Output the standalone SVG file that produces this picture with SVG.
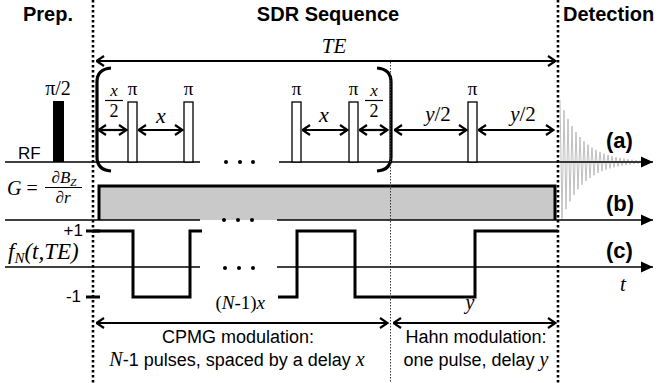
<svg xmlns="http://www.w3.org/2000/svg" width="658" height="383" viewBox="0 0 658 383">
<style>
.hdr{font-family:"Liberation Sans",Arial,sans-serif;font-weight:bold;font-size:20px;fill:#000}
.sans{font-family:"Liberation Sans",Arial,sans-serif;fill:#000}
.serif{font-family:"Liberation Serif","Times New Roman",serif;fill:#000}
.it{font-style:italic}
.axis{stroke:#000;stroke-width:1.3;fill:none}
.pulse{fill:#fff;stroke:#000;stroke-width:1.3}
.arr{stroke:#000;stroke-width:2.2;fill:none}
.wave{stroke:#000;stroke-width:3;fill:none}
.dot3{stroke:#000;stroke-width:2.6;stroke-dasharray:2.6 2.4;fill:none}
.lab{font-family:"Liberation Sans",Arial,sans-serif;font-weight:bold;font-size:22px;fill:#000}
.brk{stroke:#000;stroke-width:3.2;fill:none}
</style>
<defs>
<marker id="chev" viewBox="0 0 10 12" refX="9.5" refY="6" markerWidth="10" markerHeight="12" markerUnits="userSpaceOnUse" orient="auto-start-reverse"><path d="M1.5 1 L9 6 L1.5 11" fill="none" stroke="#000" stroke-width="2.2"/></marker>
<marker id="tri" viewBox="0 0 12 12" refX="12" refY="6" markerWidth="12" markerHeight="12" markerUnits="userSpaceOnUse" orient="auto"><path d="M0 0.5 L12 6 L0 11.5 Z" fill="#000"/></marker>
</defs>

<g id="headers">
<text class="hdr" x="48" y="21" text-anchor="middle">Prep.</text>
<text class="hdr" x="328" y="21" text-anchor="middle">SDR Sequence</text>
<text class="hdr" x="563" y="21">Detection</text>
<text class="serif it" x="334" y="53" font-size="21" text-anchor="middle">TE</text>
</g>

<g id="fid">
<polyline points="560,100 562,218.6 564,110.3 566,209.2 568,118.9 570,201.4 572,126.1 574,194.8 576,132 578,189.4 580,137 582,184.8 584,141.2 586,181 588,144.6 590,177.9 592,147.5 594,175.2 596,149.9 598,173 600,151.9 602,171.2 604,153.6 606,169.7 608,155 610,168.4 612,156.2 614,167.3 616,157.1 618,166.4 620,157.9 622,165.7 624,158.6 626,165.1 628,159.2 630,164.6 632,159.7 634,164.1 636,160.1 638,163.8 640,160.4" fill="none" stroke="#b0b0b0" stroke-width="0.8"/>
</g>

<g id="gradient">
<path d="M99 220 V186 H555 V220" fill="#c9c9c9" stroke="#000" stroke-width="3"/>
</g>

<g id="axes">
<line class="axis" x1="5" y1="162" x2="200" y2="162"/>
<line class="axis" x1="279" y1="162" x2="653" y2="162" marker-end="url(#tri)"/>
<line class="axis" x1="5" y1="220" x2="200" y2="220"/>
<line class="axis" x1="277" y1="220" x2="653" y2="220" marker-end="url(#tri)"/>
<line class="axis" x1="5" y1="267" x2="200" y2="267"/>
<line class="axis" x1="277" y1="267" x2="653" y2="267" marker-end="url(#tri)"/>
<g fill="#000">
<circle cx="226" cy="162" r="2"/><circle cx="240" cy="162" r="2"/><circle cx="253" cy="162" r="2"/>
<circle cx="224" cy="220" r="2"/><circle cx="238" cy="220" r="2"/><circle cx="252" cy="220" r="2"/>
<circle cx="225" cy="268" r="2"/><circle cx="239" cy="268" r="2"/><circle cx="253" cy="268" r="2"/>
</g>
</g>

<g id="rf-label"><text class="sans" x="18" y="159" font-size="17">RF</text></g>

<g id="pulse-pi2">
<rect x="53" y="101" width="11" height="61" fill="#000"/>
<text class="serif" x="58" y="95" font-size="20" text-anchor="middle">π/2</text>
</g>
<g id="pulse-1"><rect class="pulse" x="128" y="102" width="9" height="60"/><text class="serif" x="132.5" y="95" font-size="19" text-anchor="middle">π</text></g>
<g id="pulse-2"><rect class="pulse" x="184" y="102" width="9" height="60"/><text class="serif" x="188.5" y="95" font-size="19" text-anchor="middle">π</text></g>
<g id="pulse-3"><rect class="pulse" x="292" y="102" width="9" height="60"/><text class="serif" x="296.5" y="95" font-size="19" text-anchor="middle">π</text></g>
<g id="pulse-4"><rect class="pulse" x="349" y="102" width="9" height="60"/><text class="serif" x="353.5" y="95" font-size="19" text-anchor="middle">π</text></g>
<g id="pulse-hahn"><rect class="pulse" x="468" y="102" width="9" height="60"/><text class="serif" x="472.5" y="95" font-size="19" text-anchor="middle">π</text></g>

<g id="brackets">
<path class="brk" d="M111 68 Q97 69 97 82 V157 Q97 170 111 171"/>
<path class="brk" d="M377 68 Q391 69 391 82 V157 Q391 170 377 171"/>
</g>

<g id="delay-labels">
<text class="serif it" x="114" y="96" font-size="17" text-anchor="middle">x</text>
<line x1="105" y1="100.5" x2="123" y2="100.5" stroke="#000" stroke-width="1.2"/>
<text class="serif" x="114" y="117" font-size="18" text-anchor="middle">2</text>
<text class="serif it" x="161" y="123" font-size="22" text-anchor="middle">x</text>
<text class="serif it" x="324" y="122" font-size="22" text-anchor="middle">x</text>
<text class="serif it" x="374" y="96" font-size="17" text-anchor="middle">x</text>
<line x1="365" y1="100.5" x2="383" y2="100.5" stroke="#000" stroke-width="1.2"/>
<text class="serif" x="374" y="117" font-size="18" text-anchor="middle">2</text>
<text class="serif" x="438" y="121" font-size="21" text-anchor="middle"><tspan font-style="italic">y</tspan>/2</text>
<text class="serif" x="523" y="121" font-size="21" text-anchor="middle"><tspan font-style="italic">y</tspan>/2</text>
</g>

<g id="g-label">
<text class="serif" x="7" y="195" font-size="20"><tspan font-style="italic">G</tspan> =</text>
<text class="serif" x="64" y="183" font-size="17" text-anchor="middle">∂<tspan font-style="italic">B</tspan><tspan font-style="italic" font-size="11" dy="3">Z</tspan></text>
<line x1="45" y1="187.5" x2="82" y2="187.5" stroke="#000" stroke-width="1"/>
<text class="serif" x="63" y="203" font-size="17" text-anchor="middle">∂<tspan font-style="italic">r</tspan></text>
</g>

<g id="fn-row">
<text class="serif it" x="8" y="259" font-size="23">f<tspan font-size="15" dy="4">N</tspan><tspan dy="-4">(t,TE)</tspan></text>
<text class="sans" x="83" y="236" font-size="17" text-anchor="end">+1</text>
<text class="sans" x="81" y="302" font-size="17" text-anchor="end">-1</text>
<line x1="86" y1="231" x2="100" y2="231" stroke="#000" stroke-width="3"/>
<line x1="86" y1="297" x2="100" y2="297" stroke="#000" stroke-width="3"/>
<path class="wave" d="M93 231 H133 V297 H190 V231 H202"/>
<path class="wave" d="M278 297 H297 V231 H355 V297 H475 V231 H558"/>
<text class="serif" x="265" y="309" font-size="19" text-anchor="end">(<tspan font-style="italic">N</tspan>-1)<tspan font-style="italic">x</tspan></text>
<text class="serif it" x="470" y="309" font-size="20" text-anchor="middle">y</text>
<text class="serif it" x="620" y="291" font-size="21">t</text>
</g>

<g id="row-labels">
<text class="lab" x="606" y="148">(a)</text>
<text class="lab" x="606" y="211">(b)</text>
<text class="lab" x="606" y="258">(c)</text>
</g>

<g id="connectors">
<line class="arr" x1="96" y1="61" x2="556" y2="61" marker-start="url(#chev)" marker-end="url(#chev)"/>
<line class="arr" x1="98" y1="130" x2="127" y2="130" marker-start="url(#chev)" marker-end="url(#chev)"/>
<line class="arr" x1="138" y1="130" x2="183" y2="130" marker-start="url(#chev)" marker-end="url(#chev)"/>
<line class="arr" x1="302" y1="130" x2="348" y2="130" marker-start="url(#chev)" marker-end="url(#chev)"/>
<line class="arr" x1="359" y1="130" x2="388" y2="130" marker-start="url(#chev)" marker-end="url(#chev)"/>
<line class="arr" x1="394" y1="130" x2="467" y2="130" marker-start="url(#chev)" marker-end="url(#chev)"/>
<line class="arr" x1="478" y1="130" x2="554" y2="130" marker-start="url(#chev)" marker-end="url(#chev)"/>
<line class="arr" x1="96" y1="323" x2="388" y2="323" marker-start="url(#chev)" marker-end="url(#chev)"/>
<line class="arr" x1="393" y1="323" x2="556" y2="323" marker-start="url(#chev)" marker-end="url(#chev)"/>
</g>

<g id="bottom-text">
<text class="sans" x="238" y="343" font-size="18" text-anchor="middle">CPMG modulation:</text>
<text class="sans" x="237" y="366" font-size="18" text-anchor="middle"><tspan class="serif" font-style="italic" font-size="20">N</tspan>-1 pulses, spaced by a delay <tspan class="serif" font-style="italic" font-size="20">x</tspan></text>
<text class="sans" x="476" y="343" font-size="18" text-anchor="middle">Hahn modulation:</text>
<text class="sans" x="476" y="366" font-size="18" text-anchor="middle">one pulse, delay <tspan class="serif" font-style="italic" font-size="20">y</tspan></text>
</g>

<g id="dividers">
<line class="dot3" x1="93" y1="0" x2="93" y2="383"/>
<line class="dot3" x1="558" y1="0" x2="558" y2="383"/>
<line x1="390.5" y1="62" x2="390.5" y2="383" stroke="#333" stroke-width="1" stroke-dasharray="1.5 1.5"/>
</g>
</svg>
